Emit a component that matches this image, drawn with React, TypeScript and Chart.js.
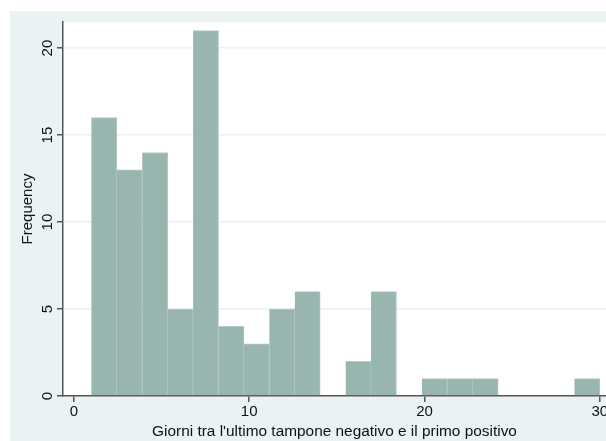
import React, { useEffect, useRef } from "react";
import { Chart, registerables } from "chart.js";

Chart.register(...registerables);

const binCenters = [1.725, 3.175, 4.625, 6.075, 7.525, 8.975, 10.425, 11.875, 13.325, 14.775, 16.225, 17.675, 19.125, 20.575, 22.025, 23.475, 24.925, 26.375, 27.825, 29.275];
const frequencies = [16, 13, 14, 5, 21, 4, 3, 5, 6, 0, 2, 6, 0, 1, 1, 1, 0, 0, 0, 1];
const xTicks = [0, 10, 20, 30];
const yTicks = [0, 5, 10, 15, 20];
const xTitle = "Giorni tra l'ultimo tampone negativo e il primo positivo";
const yTitle = "Frequency";

const FONT = "'Liberation Sans', Arial, sans-serif";

export default function App() {
  const ref = useRef<HTMLCanvasElement | null>(null);
  useEffect(() => {
    if (!ref.current) return;
    const bgPlugin = {
      id: "bg",
      beforeDraw(chart: any) {
        const { ctx, chartArea } = chart;
        ctx.save();
        ctx.fillStyle = "#ffffff";
        ctx.fillRect(0, 0, chart.width, chart.height);
        ctx.fillStyle = "#eaf2f3";
        ctx.fillRect(10, 11, chart.width - 10, chart.height - 11);
        ctx.fillStyle = "#ffffff";
        ctx.fillRect(chartArea.left, chartArea.top, chartArea.right - chartArea.left, chartArea.bottom - chartArea.top);
        ctx.restore();
      },
    };
    const chart = new Chart(ref.current, {
      type: "bar",
      data: {
        datasets: [
          {
            data: binCenters.map((x, i) => ({ x, y: frequencies[i] })),
            backgroundColor: "#98b6af",
            borderColor: "#b2c9c4",
            borderWidth: { top: 1, right: 1, left: 0, bottom: 0 },
            borderSkipped: false,
            barPercentage: 1,
            categoryPercentage: 1,
          },
        ],
      },
      options: {
        animation: false,
        responsive: false,
        devicePixelRatio: 1,
        layout: { padding: { top: 22, left: 0, right: 0, bottom: 0 } },
        plugins: { legend: { display: false }, tooltip: { enabled: false } },
        scales: {
          x: {
            type: "linear",
            min: -0.62,
            max: 30.35,
            offset: false,
            afterBuildTicks(scale: any) {
              scale.ticks = xTicks.map((v) => ({ value: v }));
            },
            afterFit(scale: any) {
              scale.height = 45;
              scale.paddingLeft = 0;
              scale.paddingRight = 0;
            },
            grid: { display: true, drawOnChartArea: false, offset: false, tickLength: 6, tickColor: "#555", lineWidth: 1.5 },
            border: { display: true, color: "#555", width: 1.5 },
            ticks: { color: "#111", font: { family: FONT, size: 15 }, padding: 1, maxRotation: 0, autoSkip: false },
            title: { display: true, text: xTitle, color: "#111", font: { family: FONT, size: 15.4 }, padding: { top: 0, bottom: 0 } },
          },
          y: {
            min: 0,
            max: 21.5,
            afterBuildTicks(scale: any) {
              scale.ticks = yTicks.map((v) => ({ value: v }));
            },
            afterFit(scale: any) {
              scale.width = 63;
              scale.paddingTop = 0;
              scale.paddingBottom = 0;
            },
            grid: {
              display: true,
              tickLength: 6,
              tickColor: "#555",
              color: (c: any) => (c.tick && c.tick.value === 0 ? "rgba(0,0,0,0)" : "#ebf2f1"),
              lineWidth: 1.5,
            },
            border: { display: true, color: "#555", width: 1.5 },
            ticks: { color: "#111", font: { family: FONT, size: 15 }, padding: 1, minRotation: 90, maxRotation: 90, crossAlign: "center", autoSkip: false },
            title: { display: true, text: yTitle, color: "#111", font: { family: FONT, size: 15 }, padding: { top: 19, bottom: 0 } },
          },
        },
      },
      plugins: [bgPlugin],
    } as any);
    return () => chart.destroy();
  }, []);
  return (
    <div style={{ position: "absolute", left: 0, top: 0, width: 606, height: 441 }}>
      <canvas ref={ref} width={606} height={441} style={{ width: 606, height: 441, display: "block" }} />
    </div>
  );
}
